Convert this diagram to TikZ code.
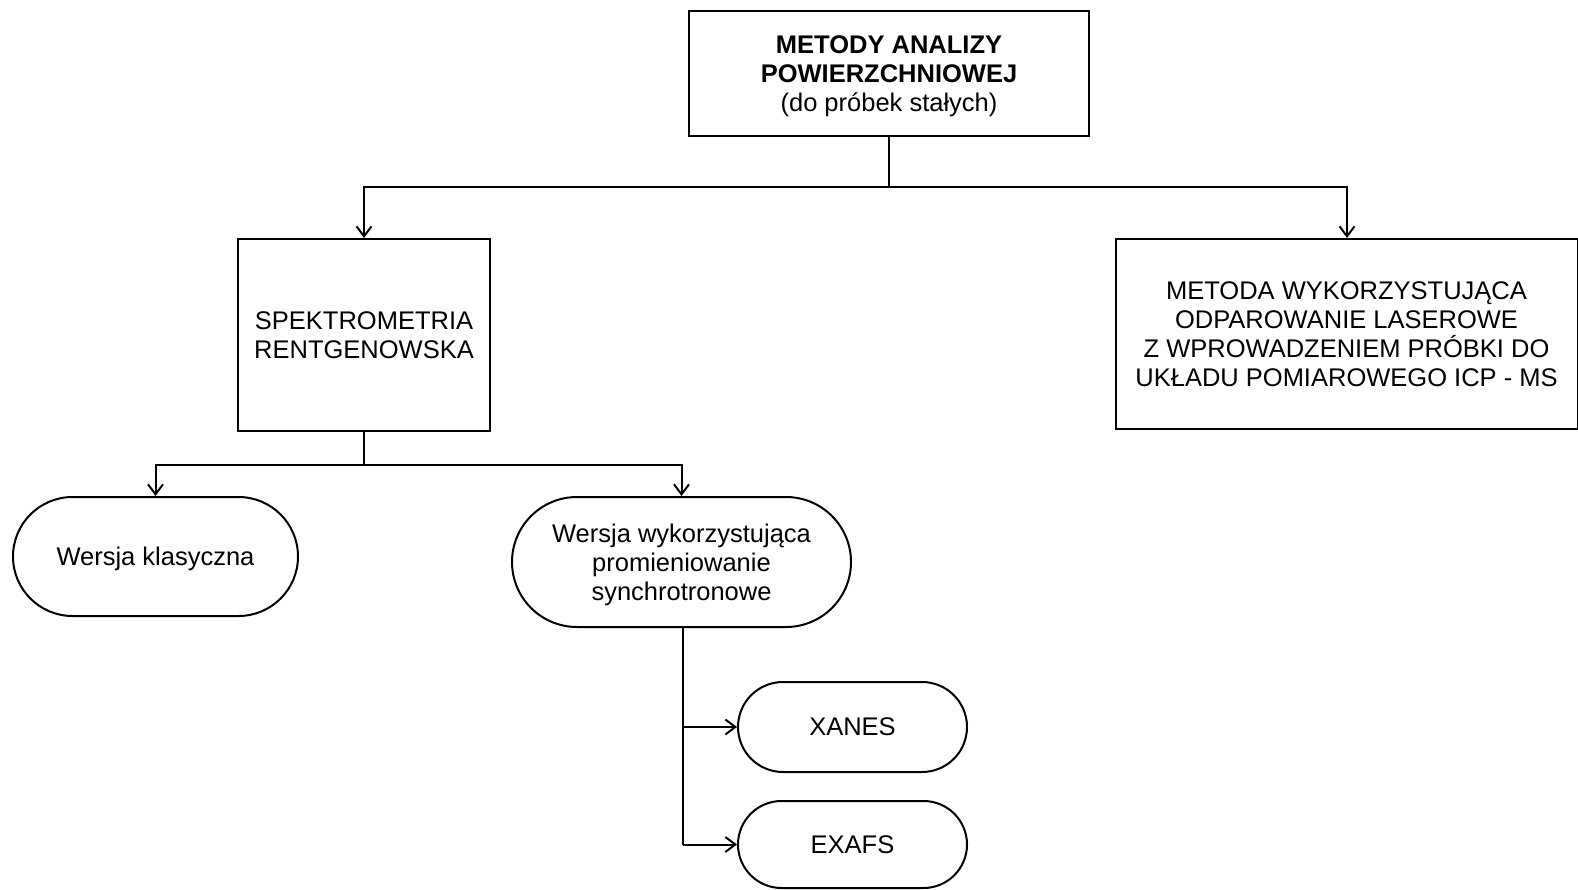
\documentclass[tikz,border=0pt]{standalone}
\usepackage{fontspec}
\setmainfont{Liberation Sans}
\usetikzlibrary{arrows.meta}
\begin{document}
\begin{tikzpicture}[x=1pt,y=-1pt,
  every node/.style={font=\fontsize{25.5}{29}\selectfont, align=center, inner sep=0pt, text depth=0pt},
  box/.style={draw, line width=2pt},
  pill/.style={draw, line width=2pt},
  conn/.style={line width=2pt},
  arr/.style={conn, -{Straight Barb[length=10pt,width=15pt,line width=2pt]}}]
\useasboundingbox (0,0) rectangle (1578,890);

% rectangular boxes
\node[box, minimum width=400pt, minimum height=125pt] (top) at (889,73.5)
  {\textbf{METODY ANALIZY}\\\textbf{POWIERZCHNIOWEJ}\\(do próbek stałych)};
\node[box, minimum width=252pt, minimum height=192pt] (xrs) at (364,335)
  {SPEKTROMETRIA\\RENTGENOWSKA};
\node[box, minimum width=462pt, minimum height=190pt] (las) at (1346.5,334)
  {METODA WYKORZYSTUJĄCA\\ODPAROWANIE LASEROWE\\Z WPROWADZENIEM PRÓBKI DO\\UKŁADU POMIAROWEGO ICP - MS};

% rounded (pill) boxes
\node[pill, rounded corners=59.5pt, minimum width=285pt, minimum height=119pt] (kla) at (155.5,556.5)
  {Wersja klasyczna};
\node[pill, rounded corners=65pt, minimum width=339pt, minimum height=130pt] (syn) at (681.5,562)
  {Wersja wykorzystująca\\promieniowanie\\synchrotronowe};
\node[pill, rounded corners=45pt, minimum width=229pt, minimum height=90pt] (xan) at (852.5,727)
  {XANES};
\node[pill, rounded corners=43.5pt, minimum width=229pt, minimum height=87pt] (exa) at (852.5,844.5)
  {EXAFS};

% branching connectors
\coordinate (j1) at (889,187);
\coordinate (j2) at (364,465);
\coordinate (j3) at (683,844.5);
\draw[conn] (top.south) -- (j1);
\draw[arr] (j1) -| (xrs.north);
\draw[arr] (j1) -| (las.north -| 1347,0);
\draw[conn] (xrs.south) -- (j2);
\draw[arr] (j2) -| (kla.north);
\draw[arr] (j2) -| (syn.north);
\draw[conn] (syn.south -| j3) -- (j3);
\draw[arr] (j3 |- xan.west) -- (xan.west);
\draw[arr] (j3) -- (exa.west);
\end{tikzpicture}
\end{document}
